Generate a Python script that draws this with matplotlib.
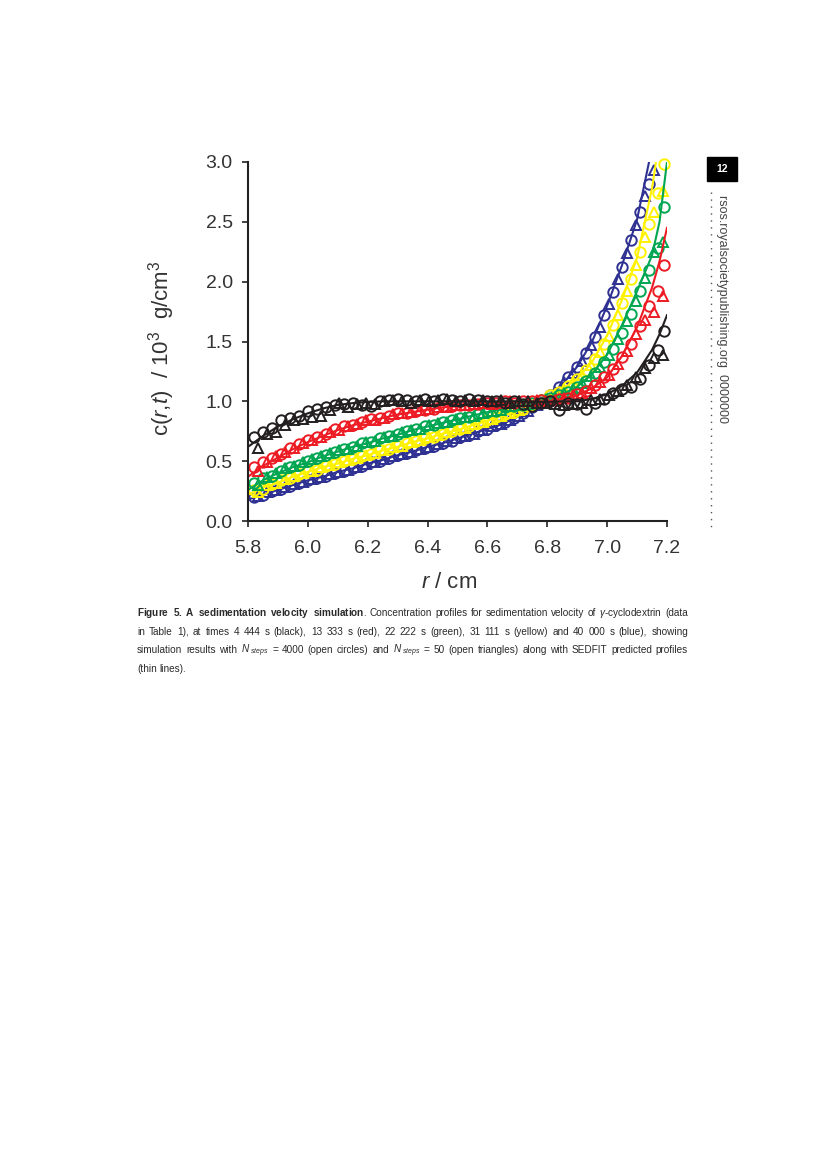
import matplotlib
matplotlib.use("Agg")
import matplotlib.pyplot as plt
import numpy as np

plt.rcParams["font.family"] = ["Liberation Sans", "DejaVu Sans"]
plt.rcParams["mathtext.fontset"] = "custom"
plt.rcParams["mathtext.rm"] = "Liberation Sans"
plt.rcParams["mathtext.it"] = "Liberation Sans:italic"
plt.rcParams["mathtext.bf"] = "Liberation Sans:bold"

nan = np.nan

# ==========================================================
# Data
# ==========================================================

# SEDFIT predicted profiles (thin lines)
R_LINE = [5.80, 5.85, 5.90, 5.95, 6.00, 6.05, 6.10, 6.15, 6.20, 6.25,
          6.30, 6.35, 6.40, 6.45, 6.50, 6.55, 6.60, 6.65, 6.70, 6.75,
          6.80, 6.85, 6.90, 6.95, 7.00, 7.05, 7.10, 7.15, 7.175, 7.20]

LINE_BLACK = [0.62, 0.71, 0.79, 0.85, 0.90, 0.94, 0.97, 0.985, 0.995, 1.00,
              1.00, 1.00, 1.00, 1.00, 1.00, 1.00, 1.00, 1.00, 1.00, 0.995,
              0.995, 1.00, 1.00, 1.02, 1.06, 1.13, 1.24, 1.43, 1.56, 1.72]
LINE_RED = [0.37, 0.46, 0.53, 0.60, 0.66, 0.71, 0.76, 0.80, 0.83, 0.86,
            0.89, 0.91, 0.93, 0.95, 0.96, 0.97, 0.98, 0.985, 0.99, 0.995,
            1.00, 1.02, 1.05, 1.11, 1.20, 1.38, 1.62, 1.95, 2.17, 2.45]
LINE_GREEN = [0.26, 0.34, 0.40, 0.45, 0.49, 0.54, 0.58, 0.62, 0.65, 0.69,
              0.72, 0.76, 0.79, 0.82, 0.85, 0.88, 0.91, 0.935, 0.96, 0.985,
              1.02, 1.06, 1.12, 1.23, 1.39, 1.64, 1.92, 2.22, 2.50, 3.00]
LINE_YELLOW = [0.22, 0.28, 0.32, 0.37, 0.41, 0.45, 0.48, 0.52, 0.55, 0.59,
               0.62, 0.66, 0.69, 0.73, 0.76, 0.80, 0.84, 0.88, 0.92, 0.97,
               1.04, 1.10, 1.19, 1.33, 1.55, 1.85, 2.20, 2.78, 3.20, 3.60]
LINE_BLUE = [0.18, 0.22, 0.26, 0.30, 0.34, 0.37, 0.41, 0.44, 0.48, 0.51,
             0.55, 0.58, 0.62, 0.65, 0.69, 0.73, 0.77, 0.81, 0.87, 0.94,
             1.03, 1.14, 1.29, 1.50, 1.80, 2.14, 2.52, 3.12, 3.50, 4.00]

# N_steps = 4000 (open circles)
R_CIRCLE = [5.82, 5.85, 5.88, 5.91, 5.94, 5.97, 6.00, 6.03, 6.06, 6.09,
            6.12, 6.15, 6.18, 6.21, 6.24, 6.27, 6.30, 6.33, 6.36, 6.39,
            6.42, 6.45, 6.48, 6.51, 6.54, 6.57, 6.60, 6.63, 6.66, 6.69,
            6.72, 6.75, 6.78, 6.81, 6.84, 6.87, 6.90, 6.93, 6.96, 6.99,
            7.02, 7.05, 7.08, 7.11, 7.14, 7.17, 7.19]

CIRCLE_BLACK = [0.70, 0.74, 0.78, 0.84, 0.86, 0.88, 0.92, 0.94, 0.95, 0.97,
                0.98, 0.99, 0.97, 0.96, 1.00, 1.01, 1.02, 1.01, 1.00, 1.02,
                1.00, 1.02, 1.01, 1.00, 1.02, 1.01, 1.00, 1.00, 0.99, 1.00,
                0.98, 0.96, 0.99, 1.00, 0.93, 0.99, 0.98, 0.94, 0.99, 1.02,
                1.07, 1.10, 1.12, 1.19, 1.30, 1.43, 1.59]
CIRCLE_RED = [0.45, 0.49, 0.53, 0.56, 0.61, 0.64, 0.68, 0.70, 0.73, 0.77,
              0.79, 0.80, 0.83, 0.85, 0.86, 0.88, 0.90, 0.90, 0.92, 0.93,
              0.94, 0.96, 0.96, 0.97, 0.97, 0.98, 0.99, 0.99, 1.00, 0.99,
              1.00, 1.00, 1.01, 1.00, 1.02, 1.03, 1.06, 1.09, 1.14, 1.20,
              1.27, 1.37, 1.48, 1.63, 1.80, 1.92, 2.14]
CIRCLE_GREEN = [0.32, 0.36, 0.38, 0.42, 0.45, 0.47, 0.50, 0.53, 0.55, 0.58,
                0.60, 0.62, 0.65, 0.66, 0.69, 0.71, 0.73, 0.75, 0.77, 0.79,
                0.80, 0.83, 0.84, 0.86, 0.87, 0.89, 0.91, 0.92, 0.95, 0.96,
                0.97, 0.99, 1.01, 1.03, 1.05, 1.08, 1.12, 1.17, 1.24, 1.33,
                1.44, 1.57, 1.73, 1.92, 2.10, 2.28, 2.62]
CIRCLE_YELLOW = [0.26, 0.27, 0.31, 0.34, 0.36, 0.39, 0.42, 0.43, 0.46, 0.48,
                 0.50, 0.52, 0.54, 0.56, 0.59, 0.60, 0.63, 0.65, 0.67, 0.69,
                 0.70, 0.73, 0.75, 0.77, 0.79, 0.82, 0.84, 0.87, 0.89, 0.91,
                 0.94, 0.97, 1.01, 1.05, 1.08, 1.13, 1.19, 1.26, 1.35, 1.48,
                 1.64, 1.82, 2.02, 2.25, 2.48, 2.74, 2.98]
CIRCLE_BLUE = [0.20, 0.22, 0.25, 0.27, 0.29, 0.32, 0.34, 0.36, 0.38, 0.40,
               0.42, 0.44, 0.46, 0.49, 0.50, 0.53, 0.55, 0.57, 0.59, 0.61,
               0.63, 0.65, 0.67, 0.70, 0.72, 0.75, 0.77, 0.80, 0.83, 0.86,
               0.90, 0.95, 0.99, 1.05, 1.12, 1.20, 1.29, 1.40, 1.54, 1.72,
               1.91, 2.12, 2.35, 2.58, 2.82, nan, nan]

# N_steps = 50 (open triangles)
R_TRIANGLE = [5.835, 5.865, 5.895, 5.925, 5.955, 5.985, 6.015, 6.045, 6.075, 6.105,
              6.135, 6.165, 6.195, 6.225, 6.255, 6.285, 6.315, 6.345, 6.375, 6.405,
              6.435, 6.465, 6.495, 6.525, 6.555, 6.585, 6.615, 6.645, 6.675, 6.705,
              6.735, 6.765, 6.795, 6.825, 6.855, 6.885, 6.915, 6.945, 6.975, 7.005,
              7.035, 7.065, 7.095, 7.125, 7.155, 7.185]

TRIANGLE_BLACK = [0.61, 0.73, 0.74, 0.80, 0.84, 0.85, 0.87, 0.88, 0.93, 0.99,
                  0.95, 0.98, 0.99, 0.98, 1.00, 1.01, 1.00, 0.99, 1.01, 1.00,
                  1.01, 1.02, 1.00, 1.01, 1.00, 1.01, 1.00, 1.01, 0.99, 1.00,
                  1.00, 0.99, 0.99, 0.98, 0.97, 0.98, 0.99, 1.01, 1.02, 1.05,
                  1.09, 1.14, 1.20, 1.28, 1.36, 1.39]
TRIANGLE_RED = [0.42, 0.49, 0.54, 0.58, 0.61, 0.65, 0.68, 0.70, 0.74, 0.76,
                0.79, 0.81, 0.84, 0.84, 0.86, 0.89, 0.90, 0.91, 0.93, 0.94,
                0.95, 0.95, 0.97, 0.97, 0.98, 0.99, 0.98, 0.99, 1.00, 1.00,
                1.00, 1.01, 1.00, 1.01, 1.03, 1.05, 1.07, 1.11, 1.16, 1.22,
                1.31, 1.42, 1.56, 1.68, 1.75, 1.88]
TRIANGLE_GREEN = [0.30, 0.37, 0.40, 0.44, 0.46, 0.49, 0.52, 0.54, 0.57, 0.59,
                  0.60, 0.63, 0.66, 0.67, 0.70, 0.71, 0.74, 0.76, 0.77, 0.80,
                  0.82, 0.83, 0.85, 0.87, 0.88, 0.90, 0.92, 0.93, 0.96, 0.97,
                  0.98, 1.00, 1.02, 1.04, 1.07, 1.10, 1.15, 1.21, 1.29, 1.39,
                  1.52, 1.67, 1.84, 2.03, 2.25, 2.33]
TRIANGLE_YELLOW = [0.24, 0.30, 0.32, 0.35, 0.38, 0.40, 0.42, 0.45, 0.47, 0.49,
                   0.51, 0.53, 0.55, 0.57, 0.59, 0.62, 0.63, 0.66, 0.68, 0.70,
                   0.72, 0.74, 0.77, 0.78, 0.81, 0.83, 0.85, 0.88, 0.90, 0.93,
                   0.96, 0.99, 1.03, 1.06, 1.10, 1.16, 1.22, 1.30, 1.41, 1.55,
                   1.72, 1.92, 2.14, 2.37, 2.58, 2.76]
TRIANGLE_BLUE = [0.21, 0.24, 0.26, 0.28, 0.31, 0.33, 0.35, 0.37, 0.39, 0.41,
                 0.43, 0.45, 0.48, 0.49, 0.52, 0.54, 0.56, 0.58, 0.60, 0.62,
                 0.64, 0.67, 0.69, 0.71, 0.73, 0.76, 0.79, 0.81, 0.84, 0.88,
                 0.92, 0.97, 1.02, 1.08, 1.16, 1.24, 1.34, 1.47, 1.62, 1.81,
                 2.02, 2.24, 2.47, 2.72, 2.93, nan]

COLORS = ["#2e3192", "#fff200", "#00a651", "#ed1c24", "#231f20"]

X_TICKS = [5.8, 6.0, 6.2, 6.4, 6.6, 6.8, 7.0, 7.2]
Y_TICKS = [0.0, 0.5, 1.0, 1.5, 2.0, 2.5, 3.0]

CAPTION = [
    [r"$\mathbf{Figure}$", r"$\mathbf{5.}$", r"$\mathbf{A}$",
     r"$\mathbf{sedimentation}$", r"$\mathbf{velocity}$", r"$\mathbf{simulation}$.",
     "Concentration", "profiles", "for", "sedimentation", "velocity", "of",
     r"$\gamma$-cyclodextrin", "(data"],
    "in Table 1), at times 4 444 s (black), 13 333 s (red), 22 222 s (green), "
    "31 111 s (yellow) and 40 000 s (blue), showing".split(" "),
    ["simulation", "results", "with", r"$N_{\ steps}$", "=", "4000", "(open",
     "circles)", "and", r"$N_{\ steps}$", "=", "50", "(open", "triangles)",
     "along", "with", "SEDFIT", "predicted", "profiles"],
    ["(thin", "lines)."],
]

# ==========================================================
# Figure
# ==========================================================

W, H = 827, 1170
fig = plt.figure(figsize=(W / 100, H / 100), dpi=100)
ax = fig.add_axes([248 / W, 1 - 521 / H, 419 / W, 359 / H])

series = [
    (LINE_BLUE, CIRCLE_BLUE, TRIANGLE_BLUE),
    (LINE_YELLOW, CIRCLE_YELLOW, TRIANGLE_YELLOW),
    (LINE_GREEN, CIRCLE_GREEN, TRIANGLE_GREEN),
    (LINE_RED, CIRCLE_RED, TRIANGLE_RED),
    (LINE_BLACK, CIRCLE_BLACK, TRIANGLE_BLACK),
]

for color, (line, circ, tri) in zip(COLORS, series):
    ax.plot(R_CIRCLE, circ, "o", ms=7.5, mfc="none", mec=color, mew=1.4,
            clip_on=False)
    ax.plot(R_TRIANGLE, tri, "^", ms=7.5, mfc="none", mec=color, mew=1.4,
            clip_on=False)
    ax.plot(R_LINE, line, "-", color=color, lw=1.5)

ax.set_xlim(5.8, 7.2)
ax.set_ylim(0.0, 3.0)
ax.set_xticks(X_TICKS)
ax.set_yticks(Y_TICKS)
ax.set_xticklabels([f"{v:.1f}" for v in X_TICKS])
ax.set_yticklabels([f"{v:.1f}" for v in Y_TICKS])

for side in ["top", "right"]:
    ax.spines[side].set_visible(False)
for side in ["left", "bottom"]:
    ax.spines[side].set_linewidth(1.5)
    ax.spines[side].set_color("#222222")

ax.tick_params(axis="both", direction="out", length=4, width=1.2,
               colors="#222222", labelsize=14, labelcolor="#333333")
ax.tick_params(axis="x", pad=10)
ax.tick_params(axis="y", pad=7)

fig.text(449 / W, 1 - 582 / H, r"$r$ / cm", fontsize=16, color="#333333",
         ha="center", va="center")
fig.text(162 / W, 1 - 348 / H, r"c($r$,$t$)  / 10$^3$  g/cm$^3$", fontsize=16,
         color="#333333", rotation=90, ha="center", va="center")

# ==========================================================
# Page furniture: page number, running head, caption
# ==========================================================

fig.patches.append(plt.Rectangle((707 / W, 1 - 181 / H), 30 / W, 24 / H,
                                 transform=fig.transFigure, color="black"))
fig.text(722 / W, 1 - 169 / H, "12", color="white", fontsize=7.5,
         fontweight="bold", ha="center", va="center")
fig.text(722 / W, 1 - 195 / H, "rsos.royalsocietypublishing.org  0000000",
         fontsize=9, color="#444444", rotation=270, ha="center", va="top")
fig.add_artist(plt.Line2D([711 / W, 711 / W], [1 - 192 / H, 1 - 530 / H],
                          transform=fig.transFigure, color="#555555",
                          lw=1.0, ls=(0, (1, 4))))

renderer = fig.canvas.get_renderer()
baselines = [616, 635, 653, 672]
x0, x1 = 137, 688


def word_widths(words, size):
    texts = [fig.text(0, 0, w, fontsize=size) for w in words]
    widths = [t.get_window_extent(renderer).width for t in texts]
    for t in texts:
        t.remove()
    return widths


# pick one caption size so the longest justified line fits with normal spaces
size = 8.8
fits = []
for words in CAPTION[:-1]:
    natural = sum(word_widths(words, size)) + (len(words) - 1) * 0.278 * size * 100 / 72
    fits.append((x1 - x0) / natural)
size = size * min(1.0, min(fits)) * 0.99

for i, words in enumerate(CAPTION):
    texts = [fig.text(0, 1 - baselines[i] / H, w, fontsize=size,
                      color="#2a2a2a", ha="left", va="baseline") for w in words]
    widths = [t.get_window_extent(renderer).width for t in texts]
    if i < len(CAPTION) - 1:
        gap = (x1 - x0 - sum(widths)) / (len(words) - 1)
    else:
        gap = 0.278 * size * 100 / 72
    x = x0
    for t, w in zip(texts, widths):
        t.set_x(x / W)
        x += w + gap

fig.savefig("out.png", dpi=100)
